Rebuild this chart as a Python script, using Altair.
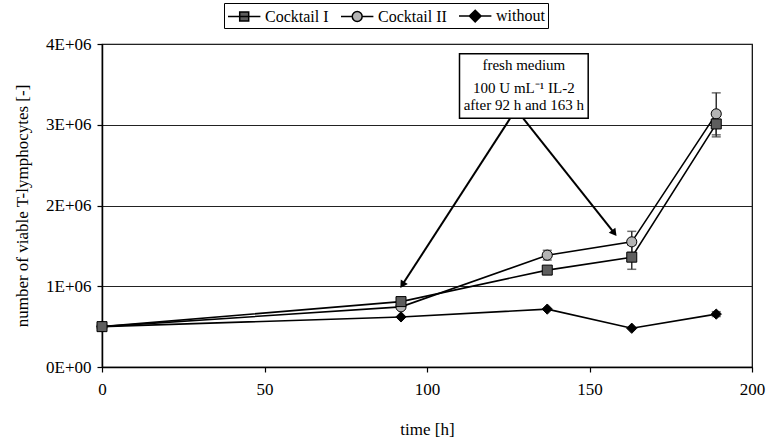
import altair as alt
import pandas as pd

# ---- data ----
series = ["Cocktail I", "Cocktail II", "without"]
time_h = [0, 92, 137, 163, 189]
cocktail_1 = [5.0e5, 8.1e5, 1.20e6, 1.36e6, 3.01e6]
cocktail_1_err = [0, 0, 0, 1.5e5, 1.6e5]
cocktail_2 = [5.0e5, 7.45e5, 1.385e6, 1.55e6, 3.135e6]
cocktail_2_err = [0, 0, 6e4, 1.3e5, 2.6e5]
without = [5.0e5, 6.2e5, 7.17e5, 4.8e5, 6.55e5]
without_err = [0, 0, 0, 0, 3e4]

fill_colors = ["#5e5e5e", "#b4b4b4", "#000000"]
point_shapes = ["square", "circle", "diamond"]
point_sizes = [100, 105, 130]

# annotation (data coordinates)
note_lines = ["fresh medium", "100 U mL\u207b\u00b9 IL-2", "after 92 h and 163 h"]
note_x = [129.8, 129.8, 129.8]
note_y = [3.745e6, 3.46e6, 3.24e6]
box_x = [110.0, 149.6]
box_y = [3.08e6, 3.88e6]
arrow_x0 = [125.6, 129.6]
arrow_y0 = [3.08e6, 3.08e6]
arrow_x1 = [92.6, 157.4]
arrow_y1 = [1.03e6, 1.67e6]
arrow_angle = [213, 142]

FONT = "Liberation Serif"

rows = []
for s, vals, errs in zip(series, [cocktail_1, cocktail_2, without],
                         [cocktail_1_err, cocktail_2_err, without_err]):
    for t, v, e in zip(time_h, vals, errs):
        rows.append({"series": s, "time": t, "value": v, "err": e,
                     "lo": v - e, "hi": v + e})
df = pd.DataFrame(rows)
err_df = df[df["err"] > 0].copy()

note_df = pd.DataFrame({"text": note_lines, "x": note_x, "y": note_y})
box_df = pd.DataFrame({"x": [box_x[0]], "x2": [box_x[1]],
                       "y": [box_y[0]], "y2": [box_y[1]]})
arrow_df = pd.DataFrame({"x": arrow_x0, "y": arrow_y0, "x2": arrow_x1,
                         "y2": arrow_y1, "angle": arrow_angle})

xscale = alt.Scale(domain=[0, 200], nice=False, zero=False)
yscale = alt.Scale(domain=[0, 4e6], nice=False)
axis_style = dict(labelFont=FONT, labelFontSize=17, labelColor="black",
                  titleFont=FONT, titleFontSize=17, titleFontWeight="normal",
                  titleColor="black")
xaxis = alt.Axis(values=[0, 50, 100, 150, 200], title="time [h]", grid=False,
                 labelFlush=False, labelPadding=9, titlePadding=24, **axis_style)
yaxis = alt.Axis(values=[0, 1e6, 2e6, 3e6, 4e6], title="number of viable T-lymphocytes [-]",
                 grid=True, labelPadding=6, titlePadding=14,
                 labelExpr="datum.value == 0 ? '0E+00' : format(datum.value / 1e6, 'd') + 'E+06'",
                 **axis_style)


def X(field):
    return alt.X(field, type="quantitative", scale=xscale, axis=xaxis)


def Y(field):
    return alt.Y(field, type="quantitative", scale=yscale, axis=yaxis)


lines = alt.Chart(df).mark_line(color="black", strokeWidth=1.6).encode(
    x=X("time"), y=Y("value"), detail="series:N"
)

err_rules = alt.Chart(err_df).mark_rule(color="#333333", strokeWidth=1.5).encode(
    x=X("time"), y=Y("lo"), y2="hi:Q"
)
err_caps_lo = alt.Chart(err_df).mark_point(shape="stroke", size=81, color="#333333",
                                            strokeWidth=1.5).encode(x=X("time"), y=Y("lo"))
err_caps_hi = alt.Chart(err_df).mark_point(shape="stroke", size=81, color="#333333",
                                            strokeWidth=1.5).encode(x=X("time"), y=Y("hi"))

points = alt.Chart(df).mark_point(filled=True, opacity=1, stroke="black", strokeWidth=1).encode(
    x=X("time"), y=Y("value"),
    shape=alt.Shape("series:N", scale=alt.Scale(domain=series, range=point_shapes), legend=None),
    fill=alt.Fill("series:N", scale=alt.Scale(domain=series, range=fill_colors), legend=None),
    size=alt.Size("series:N", scale=alt.Scale(domain=series, range=point_sizes), legend=None),
    order=alt.Order("series:N", sort="descending"),
)

# legend-only layer: line + marker symbols (unit = 9 px, symbol size 324)
legend_paths = [
    "M-1,0H2.6M0.3,-0.5H1.3V0.5H0.3Z",
    "M-1,0H0.25M1.35,0H2.6M1.35,0A0.55,0.55,0,1,1,0.25,0A0.55,0.55,0,1,1,1.35,0Z",
    "M-1,0H2.6M0.8,-0.65L1.45,0L0.8,0.65L0.15,0Z",
]
legend = alt.Legend(
    title=None, orient="none", direction="horizontal", legendX=122, legendY=-41,
    symbolSize=324, symbolStrokeColor="black", symbolStrokeWidth=1.5, symbolOpacity=1,
    labelFont=FONT, labelFontSize=16, labelColor="black", labelOffset=18,
    columnPadding=9, padding=3, strokeColor="black", fillColor="white",
)
legend_layer = alt.Chart(df).transform_filter("datum.time < 0").mark_point(
    filled=True, stroke="black", strokeWidth=1.5
).encode(
    x=X("time"), y=Y("value"),
    shape=alt.Shape("series:N", scale=alt.Scale(domain=series, range=legend_paths), legend=legend),
    fill=alt.Fill("series:N", scale=alt.Scale(domain=series, range=fill_colors), legend=legend),
    stroke=alt.Stroke("series:N", scale=alt.Scale(domain=series, range=["black", "black", "black"]),
                      legend=legend),
)

box = alt.Chart(box_df).mark_rect(fill="white", stroke="black", strokeWidth=1.5).encode(
    x=X("x"), x2="x2:Q", y=Y("y"), y2="y2:Q"
)
notes = alt.Chart(note_df).mark_text(font=FONT, fontSize=15, color="black", align="center",
                                     baseline="middle").encode(
    x=X("x"), y=Y("y"), text="text:N"
)
arrows = alt.Chart(arrow_df).mark_rule(color="black", strokeWidth=2).encode(
    x=X("x"), y=Y("y"), x2="x2:Q", y2="y2:Q"
)
heads = alt.Chart(arrow_df).mark_point(shape="triangle", filled=True, color="black", size=70,
                                       opacity=1).encode(
    x=X("x2"), y=Y("y2"), angle=alt.Angle("angle:Q", scale=None)
)

chart = alt.layer(
    lines, err_rules, err_caps_lo, err_caps_hi, points, legend_layer, arrows, heads, box, notes
).resolve_scale(
    shape="independent", fill="independent", stroke="independent"
).properties(
    width=650, height=323,
    autosize=alt.AutoSizeParams(type="none"),
    padding={"left": 102, "top": 44, "right": 14, "bottom": 74},
    background="white",
).configure_view(
    stroke="black", strokeWidth=1.2
).configure_axis(
    domainColor="black", domainWidth=1.5, tickColor="black", tickWidth=1.2, tickSize=5,
    gridColor="#222222", gridWidth=1, gridOpacity=1,
    labelFont=FONT, labelFontSize=17, labelColor="black",
    titleFont=FONT, titleFontSize=17, titleFontWeight="normal", titleColor="black",
)

chart.save("out.html", embed_options={"renderer": "svg", "actions": False})
